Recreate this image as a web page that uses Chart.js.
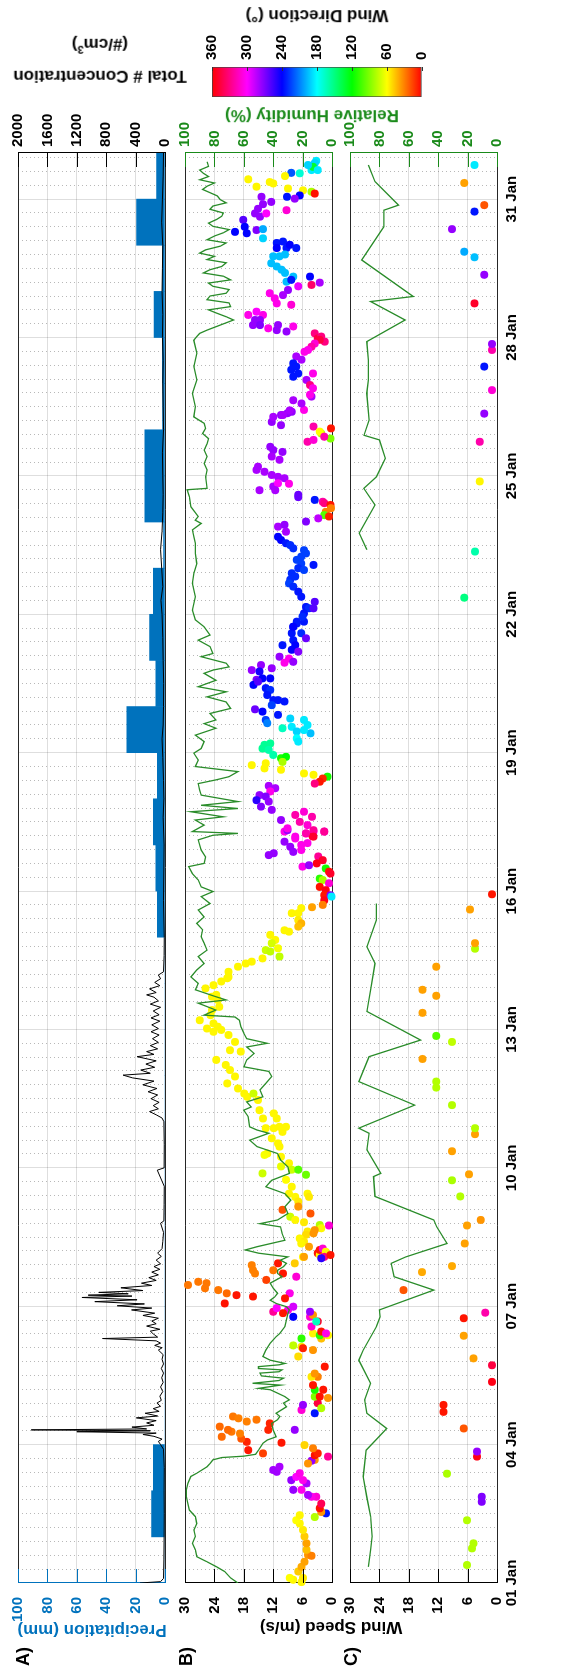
<!DOCTYPE html>
<html><head><meta charset="utf-8">
<script src="https://cdn.jsdelivr.net/npm/chart.js@4.4.0/dist/chart.umd.min.js"></script>
<style>
html,body{margin:0;padding:0;background:#fff;width:564px;height:1675px;overflow:hidden;}
#fig{position:absolute;left:0;top:0;width:1675px;height:564px;transform-origin:0 0;transform:translate(0px,1675px) rotate(-90deg);font-family:"Liberation Sans",Arial,Helvetica,sans-serif;font-weight:bold;}
canvas{position:absolute;}
.lbl{position:absolute;white-space:nowrap;font-weight:bold;line-height:1.2;}
.rot{transform:translate(-50%,-50%) rotate(-90deg);text-align:center;}
</style></head>
<body>
<div id="fig">
  <canvas id="cA" width="1675" height="175" style="left:0;top:0"></canvas>
  <canvas id="cB" width="1675" height="167" style="left:0;top:175px"></canvas>
  <canvas id="cC" width="1675" height="224" style="left:0;top:340px"></canvas>
  <canvas id="cCB" width="110" height="240" style="left:1560px;top:200px"></canvas>
  <div class="lbl" style="left:9px;top:13px;font-size:18px">A)</div>
  <div class="lbl" style="left:9px;top:176px;font-size:18px">B)</div>
  <div class="lbl" style="left:9px;top:341px;font-size:18px">C)</div>
  <div class="lbl rot" style="left:45px;top:92px;font-size:17px;color:#0072BD">Precipitation (mm)</div>
  <div class="lbl rot" style="left:48px;top:331px;font-size:17px;color:#000">Wind Speed (m/s)</div>
  <div class="lbl rot" style="left:1615px;top:100px;font-size:17px;color:#000;line-height:26px">Total # Concentration<br>(#/cm<sup style="font-size:11px">3</sup>)</div>
  <div class="lbl rot" style="left:1560px;top:312px;font-size:17px;color:#1a8a1a">Relative Humidity (%)</div>
  <div class="lbl rot" style="left:1660px;top:317px;font-size:17px;color:#000">Wind Direction (°)</div>
</div>
<script>
// ---------- DATA ----------
const dayTicks = [0,3,6,9,12,15,18,21,24,27,30];
const dayTickLabels = ['01 Jan','04 Jan','07 Jan','10 Jan','13 Jan','16 Jan','19 Jan','22 Jan','25 Jan','28 Jan','31 Jan'];
const precipTicks = [0,20,40,60,80,100];
const concTicks = [0,400,800,1200,1600,2000];
const speedTicks = [0,6,12,18,24,30];
const rhTicks = [0,20,40,60,80,100];
const dirTicks = [0,60,120,180,240,300,360];

// daily precipitation (mm), 01 Jan .. 31 Jan
const precipMM = [0,9.1,8.0,0,0,0,0,0,0,0,0,0,0,0,5.3,6.3,8.0,5.3,25.9,6.3,10.5,8.0,1.0,13.7,13.7,1.6,1.8,7.5,1.8,19.3,5.7];

// total number concentration (#/cm3): time (days since 01 Jan) and value
const concT = [0,0.03,0.1,0.5,1.0,1.5,2.0,2.5,2.9,3.0,3.07,3.12,3.18,3.22,3.25,3.28,3.3,3.32,3.34,3.38,3.42,3.47,3.52,3.58,3.62,3.68,3.72,3.78,3.83,3.9,3.96,4.05,4.15,4.25,4.35,4.45,4.55,4.65,4.75,4.85,4.95,5.05,5.1,5.15,5.2,5.25,5.3,5.33,5.4,5.46,5.5,5.57,5.62,5.68,5.74,5.8,5.85,5.92,5.96,6.01,6.05,6.1,6.14,6.19,6.22,6.24,6.27,6.3,6.34,6.4,6.45,6.5,6.56,6.62,6.68,6.74,6.8,6.86,6.92,7.0,7.08,7.15,7.25,7.4,7.6,7.8,7.85,8.2,8.6,8.95,9.0,9.5,10.0,10.08,10.15,10.22,10.28,10.35,10.42,10.5,10.58,10.65,10.72,10.8,10.88,10.95,11.01,11.05,11.12,11.18,11.25,11.32,11.41,11.46,11.52,11.58,11.65,11.72,11.8,11.88,11.95,12.02,12.1,12.18,12.25,12.32,12.4,12.48,12.55,12.62,12.7,12.75,12.8,12.88,12.95,13.02,13.1,13.18,13.25,13.6,14.0,14.8,15.5,16.0,16.6,17.0,17.4,17.9,18.3,18.6,19.0,19.5,20.0,20.5,21.0,21.3,21.6,22.0,22.4,22.8,23.2,23.6,24.0,24.5,25.0,25.5,26.0,26.5,27.0,27.5,28.0,28.5,29.0,29.5,30.0,30.5,31.0];
const concV = [340,60,20,15,12,10,12,10,20,60,90,40,150,300,120,1200,200,1820,250,450,150,250,120,390,100,270,80,160,60,110,50,70,30,60,25,45,20,50,20,40,25,90,40,140,60,120,850,100,160,200,70,250,120,180,90,300,140,455,180,650,280,955,380,1130,450,1045,500,900,300,600,180,320,120,220,90,180,70,150,60,120,50,100,40,30,20,60,15,12,10,105,12,10,15,40,120,210,90,160,80,190,100,230,110,300,150,440,570,200,330,140,260,120,380,150,250,100,200,90,170,80,190,90,180,70,190,80,160,60,200,90,150,250,120,210,70,140,60,90,20,12,10,20,15,12,25,15,20,30,40,25,20,18,25,30,40,55,30,45,60,40,30,25,30,35,20,25,30,25,35,30,40,35,30,45,35,25,20];

// panel B relative humidity line
const rhBT = [0,0.11,0.25,0.35,0.46,0.57,0.72,0.86,1.01,1.15,1.29,1.44,1.58,1.72,1.87,2.02,2.16,2.31,2.38,2.52,2.59,2.67,2.72,2.75,2.79,2.88,3.03,3.1,3.17,3.32,3.46,3.54,3.61,3.68,3.82,3.9,3.97,4.04,4.19,4.22,4.29,4.33,4.39,4.44,4.49,4.55,4.58,4.62,4.65,4.69,4.73,4.76,4.83,4.91,5.05,5.2,5.34,5.41,5.56,5.7,5.84,5.92,5.99,6.06,6.13,6.2,6.28,6.39,6.5,6.57,6.64,6.71,6.78,6.86,6.93,7.0,7.07,7.15,7.22,7.29,7.43,7.58,7.72,7.79,7.87,8.01,8.16,8.3,8.44,8.59,8.73,8.88,9.02,9.17,9.31,9.46,9.6,9.75,9.82,9.89,10.11,10.25,10.32,10.43,10.54,10.69,10.83,10.98,11.09,11.19,11.34,11.48,11.62,11.7,11.8,11.92,12.06,12.2,12.27,12.31,12.42,12.57,12.64,12.71,12.86,13.0,13.14,13.29,13.43,13.58,13.72,13.87,14.01,14.16,14.3,14.44,14.59,14.73,14.88,14.99,15.09,15.24,15.38,15.53,15.6,15.74,15.89,16.11,16.21,16.25,16.29,16.43,16.54,16.61,16.72,16.79,16.86,16.94,17.08,17.19,17.33,17.41,17.48,17.59,17.7,17.84,17.99,18.09,18.24,18.38,18.53,18.63,18.71,18.85,18.96,19.1,19.21,19.32,19.43,19.57,19.72,19.79,19.86,19.94,20.08,20.15,20.3,20.44,20.55,20.73,20.88,21.09,21.38,21.67,21.89,22.1,22.32,22.54,22.68,22.83,22.97,23.04,23.12,23.33,23.55,23.7,23.73,23.98,24.13,24.27,24.42,24.56,24.7,24.81,24.92,25.03,25.14,25.28,25.5,25.79,26.08,26.37,26.66,26.94,27.02,27.09,27.16,27.27,27.38,27.45,27.53,27.6,27.67,27.75,27.82,27.9,27.96,28.04,28.11,28.18,28.25,28.33,28.4,28.47,28.54,28.62,28.69,28.76,28.83,28.9,28.98,29.05,29.12,29.2,29.27,29.34,29.41,29.48,29.56,29.63,29.7,29.78,29.85,29.92,29.99,30.07,30.14,30.21,30.28,30.35,30.42,30.49,30.56,30.63,30.71,30.81];
const rhBV = [64,69,73,78.5,85,92,93,95,93,94,92,93,97,98,99,99,98,96,92,85,83,81,75,60,52,50,47,44,38,40,41,37,35.5,38,31,33,29,32,42,50,35,54,36,33,48,49,36,34,50,50,36,32,42,47,45,42,38,35.5,32,31,30,29,31,38,42,39,37,40,42,38,34,37,37,33,31,35,30,50,59,51,32,34,35,49,37,30,32,28,32,45,41,29,30,35,37,51,56,43,51,56,57,60,55,58,47,49,45,41,43,60,58,53,58,44,58,60,62,63,66,87,79,91,72,79,93,91,96,92,87,91,85,87,89,88,92,87,91,83,89,81,89,91,95,97.5,87,86,89,91,81,64,95,87,93,74,96,64,89,64,89,90,91,79,70,64,93,91,94,89,87,93,79,87,79,83,69,72,85,72,91,79,87,81,70,72,89,81,83,91,83,87,93,95,93,95,94,92,93,93,94,95,89,93,91,96,97,98.5,85,86,85,87,85,87,85,84,88,86,87,94,93,95,92,94,92,94,92,90,85,76,67,72,78.5,84,69,70,85,83,72,70,81,84,69,74,87.5,83,75,72,85,80,90,86,76,72,85,80,74,70,81,84,78.5,75,74,83,81,72,76,78,83,88,85,80,90,84,87.5,90,84,85];

// panel B wind speed (m/s), time, and wind direction (deg)
const wsBT = [0.07,0.02,0.11,0.11,0.25,0.35,0.46,0.61,0.59,0.72,0.86,1.01,1.15,1.29,1.36,1.47,1.43,1.51,1.54,1.62,1.72,1.87,1.87,1.91,2.02,2.16,2.23,2.02,2.23,2.30,2.38,2.41,2.45,2.52,2.74,2.67,2.65,2.77,2.81,2.92,2.59,2.99,2.81,2.88,3.06,3.13,3.24,3.28,3.32,3.39,3.17,3.50,3.54,3.61,3.57,3.32,3.46,3.04,3.32,3.75,3.86,3.68,3.90,3.79,4.04,4.19,4.04,4.29,4.47,4.47,4.54,4.69,4.01,4.19,5.05,5.12,4.91,5.15,5.09,5.41,5.30,5.37,5.37,5.30,5.56,5.45,5.41,5.67,5.77,5.81,5.67,5.88,5.77,5.92,5.85,5.99,5.88,5.96,6.28,6.64,6.21,6.24,6.06,6.28,6.35,6.39,6.50,6.53,6.46,6.78,6.71,6.89,6.78,6.93,6.57,6.71,6.17,6.93,7.07,7.15,7.11,
11.73,11.55,11.52,11.34,11.23,11.12,10.98,10.83,10.72,10.61,10.54,10.61,10.47,10.25,10.07,10.18,10.07,9.86,9.86,9.89,9.78,9.89,9.64,9.53,9.46,9.31,9.28,9.24,9.03,8.88,9.1,8.96,8.96,8.85,8.74,8.59,8.44,8.37,8.27,8.44,8.37,8.16,8.09,7.94,7.87,8.01,7.82,7.76,7.69,7.75,7.62,7.55,7.65,7.58,7.47,7.4,7.36,7.29,7.07,7.22,7.25,7.18,7.07,7.11,7.04,
16.29,16.32,16.25,16.29,16.29,16.18,16.04,16.19,16.07,15.96,15.85,16.0,15.89,15.78,15.82,15.75,15.67,15.6,15.53,15.56,15.49,15.42,15.38,15.27,15.24,15.17,15.09,15.02,14.91,14.8,14.91,14.88,14.7,14.65,14.63,14.52,14.52,14.37,14.3,14.23,14.15,14.12,14.05,13.94,13.87,13.76,13.72,13.69,13.58,13.54,13.47,13.43,13.36,13.25,13.14,13.11,13.04,12.96,12.89,12.75,12.71,12.64,12.49,12.42,12.31,12.2,12.13,12.06,12.02,11.95,11.99,11.88,
20.84,20.73,20.84,20.59,20.59,20.44,20.48,20.33,20.33,20.23,20.19,20.08,20.04,19.95,19.97,19.79,19.9,19.83,19.76,19.58,19.61,19.61,19.47,19.54,19.4,19.36,19.25,19.14,19.14,19.11,19.03,18.94,18.89,18.82,18.71,18.64,18.74,18.56,18.53,18.71,18.6,18.42,18.49,18.46,18.31,18.24,18.17,18.2,18.09,18.06,17.95,17.88,17.91,17.8,17.73,17.77,17.66,17.63,17.55,17.52,17.48,17.44,17.37,17.33,17.28,17.23,17.16,17.08,17.05,16.97,16.94,16.83,16.76,16.54,16.65,16.72,16.61,16.5,16.43,16.36,16.25,16.32,16.29,16.18,16.14,
25.39,25.43,25.32,25.36,25.17,25.1,25.07,24.92,24.96,25.03,24.81,24.85,24.74,24.78,24.63,24.56,24.52,24.42,24.35,24.2,24.13,24.09,24.02,23.98,23.95,23.77,23.84,23.83,23.69,23.69,23.59,23.54,23.48,23.44,23.41,23.37,23.3,23.22,23.15,23.12,23.08,23.01,22.9,22.94,22.79,22.68,22.61,22.54,22.5,22.43,22.25,22.39,22.32,22.18,22.1,22.0,21.96,22.07,21.89,21.82,21.75,21.67,21.6,21.49,21.38,21.16,21.13,21.02,21.27,21.13,20.95,20.8,20.73,
30.83,30.78,30.63,30.7,30.74,30.63,30.56,30.57,30.5,30.16,30.12,30.19,30.23,30.34,30.37,30.43,30.27,30.05,30.05,30.08,30.01,29.76,29.94,29.89,29.79,29.69,29.62,29.69,29.55,29.4,29.26,29.29,29.33,29.35,29.15,29.05,29.08,28.94,28.94,29.01,28.94,28.76,28.76,28.8,28.61,28.54,28.47,28.4,28.32,28.21,28.25,28.32,28.11,28.14,28.19,28.03,27.92,27.96,27.85,27.74,27.71,27.49,27.49,27.56,27.38,27.38,27.27,27.27,27.2,27.16,27.27,27.24,27.13,27.09,26.98,27.02,26.91,26.95,26.87,26.8,26.73,26.69,26.59,26.52,26.44,26.3,26.37,26.15,26.22,26.08,26.22,25.97,25.9,25.72,25.76,25.57,25.64,25.42,25.32,25.28];
const wsBV = [7.9,6.2,5.9,8.6,6.9,6.2,5.6,4.9,4.2,5.2,5.2,5.6,5.9,6.6,7.3,6.6,3.5,1.2,2.2,2.5,2.2,3.2,4.2,4.9,6.2,5.2,5.9,7.9,8.3,7.3,6.6,11.3,12.0,10.7,0.8,3.5,4.2,3.5,2.9,3.9,4.9,5.6,14.1,17.1,17.4,18.5,18.8,20.5,21.2,22.9,22.5,17.4,15.4,20.2,19.1,13.0,12.7,10.3,7.6,6.2,5.9,3.5,2.9,2.2,3.5,3.5,2.5,3.9,2.9,4.2,3.5,1.5,0.8,1.8,3.9,6.2,6.9,7.9,5.9,3.9,2.2,2.5,0.8,6.2,4.2,2.2,1.2,2.9,4.5,3.9,3.2,4.5,7.9,9.0,10.0,7.9,12.0,11.3,8.6,7.3,16.1,19.5,21.9,21.5,23.2,25.9,25.6,27.3,29.4,16.1,15.7,16.4,12.0,11.0,13.4,10.0,9.6,7.6,5.9,2.9,2.5,
19.8,20.8,18.6,23.6,21.7,20.8,19.8,21.4,19.2,17.9,17.3,16.0,15.1,14.8,14.1,11.9,11.3,13.5,11.9,10.7,10.1,9.4,12.3,11.0,10.7,13.2,13.8,10.4,10.4,14.2,8.8,8.2,6.9,5.3,9.4,8.2,8.8,7.5,6.9,5.0,4.7,6.9,10.1,8.5,7.5,4.4,5.7,2.5,2.2,0.6,5.0,5.3,3.5,3.8,6.6,5.7,6.3,4.7,5.7,2.5,1.9,1.3,1.6,0.3,2.2,
9.7,9.1,5.3,3.8,1.6,7.5,5.0,4.0,9.7,8.5,7.9,6.3,6.3,12.9,11.9,2.8,1.9,3.1,6.0,4.7,1.3,0.6,0.3,2.5,1.9,0.6,2.5,1.3,1.6,1.6,0.3,0.1,1.9,4.1,6.3,8.2,6.9,6.9,6.3,6.9,9.7,8.8,12.6,11.6,12.3,11.0,13.5,12.6,10.7,14.2,16.4,17.6,19.2,21.1,21.1,21.4,22.6,24.2,25.8,23.6,24.5,23.3,23.0,24.5,24.8,27.0,24.2,23.3,25.5,24.2,22.6,21.1,
7.2,7.9,5.7,8.2,6.3,7.9,5.3,10.1,7.5,8.2,6.9,10.7,8.8,9.7,7.9,16.4,14.5,12.3,14.8,15.4,14.2,12.6,16.0,15.1,13.5,12.6,13.2,12.0,11.0,9.7,12.3,15.7,14.2,11.0,13.5,13.2,8.5,8.2,10.1,5.7,5.0,4.4,5.7,7.2,7.2,6.9,13.8,12.6,14.2,12.9,12.0,10.4,9.4,10.1,16.4,13.5,13.8,10.4,5.7,3.8,0.9,1.9,2.5,3.5,12.9,11.6,12.6,14.8,13.5,15.4,12.9,14.5,12.3,10.4,7.5,5.7,4.1,6.6,5.0,9.1,5.3,3.8,1.6,3.8,7.5,
8.2,5.7,10.4,9.1,12.3,10.4,3.8,2.2,2.5,0.2,0.3,1.6,5.0,3.8,12.6,12.0,10.1,12.3,10.7,15.1,15.4,13.8,12.3,11.0,9.7,12.0,11.0,8.8,14.8,11.6,6.9,6.9,3.5,1.9,1.6,0.3,0.2,1.3,1.6,0.6,2.8,5.3,11.0,9.7,9.4,11.0,10.4,9.4,8.5,7.9,6.3,5.7,5.3,7.2,6.3,6.9,5.7,3.8,8.2,7.5,8.5,8.8,7.9,6.9,6.3,5.3,4.7,5.7,3.5,3.8,6.0,7.2,7.9,
3.2,3.5,4.2,3.9,4.9,2.9,6.6,8.3,9.6,4.2,3.5,5.9,9.0,12.0,12.7,17.1,15.4,14.4,9.2,6.6,7.6,9.3,12.4,14.1,15.1,15.7,14.7,13.4,18.1,17.8,17.4,19.8,15.4,14.1,14.1,11.3,10.0,11.3,9.3,8.6,7.3,12.0,10.7,9.6,12.4,11.3,10.3,9.6,7.9,9.3,8.3,4.5,6.9,4.2,2.5,9.0,10.0,12.7,11.7,11.3,8.3,14.1,17.1,15.4,15.7,14.7,16.1,14.7,13.0,11.3,11.0,7.9,9.3,3.5,2.9,2.2,1.5,2.5,3.5,4.2,4.9,5.6,7.3,6.2,7.9,8.3,7.3,7.9,6.9,5.2,3.9,4.5,3.9,4.2,4.5,6.2,7.9,8.6,10.0,12.0];
const wsBD = [58,58,55,60,48,40,38,35,30,45,38,48,55,58,60,58,78,235,35,4,340,310,305,280,305,280,305,275,275,300,305,278,278,280,325,35,275,4,8,30,35,50,15,5,8,20,30,28,25,25,25,30,28,28,30,8,8,5,275,310,275,235,345,78,90,115,5,5,30,55,35,5,35,5,35,55,52,75,8,58,45,110,58,110,310,5,305,350,310,35,165,275,240,305,5,290,325,300,305,310,5,5,4,25,28,28,28,28,28,30,30,30,28,5,15,5,5,48,58,5,58,
58,58,58,58,58,58,58,58,58,58,58,72,58,58,58,58,58,58,58,58,58,58,58,58,58,58,62,58,65,72,58,72,100,95,60,58,58,58,55,58,55,35,20,72,58,20,55,78,58,310,55,52,35,35,58,55,58,38,38,5,310,58,330,5,250,
305,275,305,305,305,305,305,350,275,275,275,305,305,275,275,325,350,355,305,275,115,5,350,110,80,310,4,355,5,355,270,185,30,38,58,58,58,55,42,45,58,58,58,58,70,62,72,75,75,58,58,58,58,58,58,58,58,58,58,58,58,58,58,58,58,58,58,58,58,58,58,58,
235,235,235,235,230,235,265,235,240,240,270,275,305,305,275,275,275,275,245,270,240,240,240,260,235,230,235,235,235,235,225,265,240,235,225,210,190,185,165,185,185,195,185,190,180,185,155,155,155,160,160,115,120,80,58,58,58,58,58,58,115,10,5,330,280,280,305,275,270,250,275,270,275,275,320,310,320,320,310,305,320,325,325,350,305,
275,305,275,275,275,275,320,78,60,5,90,320,320,310,275,275,275,280,280,280,280,280,280,280,280,280,300,305,280,280,265,265,235,320,330,5,30,30,100,8,285,270,280,275,280,240,240,235,230,230,225,225,225,225,225,230,225,235,230,230,230,225,230,235,235,235,230,235,260,260,230,235,240,
185,190,185,130,190,185,170,220,58,80,4,58,58,58,58,58,58,275,235,240,275,310,275,275,275,275,275,300,260,240,240,240,270,200,190,235,235,240,235,240,235,195,195,195,195,195,195,195,195,195,235,240,295,335,280,275,280,305,305,305,310,305,305,300,275,275,275,270,305,275,275,305,275,330,345,330,330,345,310,320,305,305,280,280,235,235,235,235,235,280,305,330,305,280,305,280,280,280,280,280];

// panel C relative humidity line (null = no data)
const rhCT = [0.35,0.72,1.01,1.44,1.87,2.31,2.88,3.35,3.68,3.97,4.33,4.83,5.05,5.56,5.77,5.92,6.35,6.64,6.93,7.07,7.36,7.72,7.87,8.38,8.81,8.88,9.39,9.75,9.86,10.36,10.87,11.41,11.77,12.39,12.86,13.43,13.79,14.37,14.73,18,22.4,22.76,23.37,23.73,23.98,24.38,24.78,24.88,25.21,25.79,26.08,26.51,26.91,27.38,27.78,27.89,28.68,29.4,29.76,29.87,30.38,30.74];
const rhCV = [87.5,86,85,86,88.6,91,89,75,88.6,90,86,94,91,82,79.5,80,43,70,72,62,34,41,43,83,84,79,88.5,87,94,56,94,87,52,88.5,86,83,88.5,82,82,null,88.5,93.7,83,90.6,82,76,80,90.5,87,88.6,87.5,87.5,88.6,62.5,86,57,92,77,77,67,83,87.5];

// panel C wind speed, time, direction
const wsCT = [0.39,0.75,0.86,1.36,1.76,1.87,2.37,2.74,2.85,3.35,3.71,3.86,4.36,4.72,4.87,5.36,5.74,5.86,6.35,6.74,6.87,7.36,7.75,7.87,8.38,8.73,8.86,9.36,9.73,9.86,10.36,10.74,10.87,11.36,11.73,11.86,12.36,12.73,12.86,13.36,13.75,13.87,14.6,14.93,21.36,22.36,23.88,24.74,25.35,25.86,26.37,26.73,26.86,27.74,28.36,28.74,28.86,29.35,29.73,29.87,30.35,30.74];
const wsCV = [6.1,5.1,4.8,6.1,3.1,3.1,10.2,4.1,4.1,6.8,10.9,10.9,1.0,1.0,4.8,6.8,6.8,2.4,19.1,15.3,9.2,6.6,6.1,3.3,7.5,9.2,5.7,9.2,4.5,4.5,9.2,12.4,12.4,15.2,9.2,12.4,15.2,12.4,15.2,12.4,4.5,4.5,5.5,1.0,6.7,4.5,3.5,3.5,2.6,1.0,2.6,1.0,1.0,4.6,2.6,4.6,6.7,9.2,4.6,2.6,6.7,4.6];
const wsCD = [78,78,78,78,270,270,80,355,275,20,5,5,355,345,38,38,5,320,20,40,40,38,38,35,78,80,38,38,38,78,78,78,78,38,75,100,38,38,38,38,78,38,38,5,150,160,58,320,275,310,235,320,275,350,275,195,200,275,235,20,38,185];

// ---------- STYLE ----------
const FONT = '"Liberation Sans", Arial, Helvetica, sans-serif';
const BLUE = '#0072BD', GREEN = '#1a8a1a', LINEGREEN = '#2a8c2a', AX = '#262626';
Chart.defaults.font.family = FONT;
Chart.defaults.font.weight = 'bold';
Chart.defaults.font.size = 15;
Chart.defaults.color = '#000';
const dirColor = d => `hsl(${d},100%,50%)`;
const pts = (t, v) => t.map((x, i) => ({x, y: v[i]}));

const insideTicks = {
  id: 'insideTicks',
  afterDraw(chart, args, opts) {
    const c = chart.ctx, a = chart.chartArea;
    (opts.scales || []).forEach(spec => {
      const s = chart.scales[spec.id];
      if (!s) return;
      c.save(); c.strokeStyle = spec.color; c.lineWidth = 1;
      s.ticks.forEach(t => {
        const y = Math.round(s.getPixelForValue(t.value)) + 0.5;
        c.beginPath();
        if (s.position === 'left') { c.moveTo(a.left, y); c.lineTo(a.left + spec.len, y); }
        else { c.moveTo(a.right, y); c.lineTo(a.right - spec.len, y); }
        c.stroke();
      });
      c.restore();
    });
  }
};

function xAxes(showLabels, h) {
  return {
    x: {type:'linear', min:0, max:31, position:'bottom', offset:false,
      afterBuildTicks: s => { s.ticks = dayTicks.map(v => ({value:v})); },
      ticks: {display:showLabels, autoSkip:false, maxRotation:0, minRotation:0, padding:6, color:'#000',
        font:{size:15, weight:'bold'}, callback: v => dayTickLabels[dayTicks.indexOf(v)]},
      grid: {color:'rgba(0,0,0,0.13)', lineWidth:1, drawTicks:false, offset:false},
      border: {display:true, color:AX, width:1},
      afterFit: s => { s.height = h; }
    },
    xm: {type:'linear', min:0, max:31, position:'bottom', offset:false,
      afterBuildTicks: s => { const t = []; for (let k = 1; k <= 103; k++) { if (k % 10) t.push({value: k * 0.3}); } s.ticks = t; },
      ticks: {display:false},
      grid: {color:'rgba(0,0,0,0.28)', lineWidth:1, drawTicks:false, offset:false},
      border: {display:false, dash:[1,3]},
      afterFit: s => { s.height = 0; }
    },
    xt: {type:'linear', min:0, max:31, position:'top', offset:false,
      ticks: {display:false}, grid: {display:false, drawTicks:false},
      border: {display:true, color:AX, width:1},
      afterFit: s => { s.height = 0; }
    }
  };
}
function yAxis(pos, min, max, tickArr, color, width, withGrid, tl) {
  return {type:'linear', position:pos, min, max,
    afterBuildTicks: s => { s.ticks = tickArr.map(v => ({value:v})); },
    ticks: {color, padding:0, font:{size:15, weight:'bold'}, callback: v => String(v)},
    grid: withGrid ? {color:'rgba(0,0,0,0.13)', drawTicks:true, tickLength:tl, tickColor:'rgba(0,0,0,0)'}
                   : {drawOnChartArea:false, drawTicks:true, tickLength:tl, tickColor:'rgba(0,0,0,0)'},
    border: {display:true, color, width:1},
    afterFit: s => { s.width = width; }
  };
}
const base = (padTop, extraScales, tickSpecs) => ({
  responsive:false, animation:false, devicePixelRatio:1, events:[],
  layout:{padding:{top:padTop, left:0, right:0, bottom:0}},
  plugins:{legend:{display:false}, tooltip:{enabled:false}, insideTicks:{scales:tickSpecs}},
  scales: extraScales
});

// ---------- Panel A ----------
new Chart(document.getElementById('cA'), {
  type:'scatter',
  data:{datasets:[
    {type:'line', data:pts(concT, concV), xAxisID:'x', yAxisID:'yR', borderColor:'#000', borderWidth:1, pointRadius:0, tension:0, order:0},
    {type:'bar', data:precipMM.map((v, i) => ({x:i + 0.5, y:v})), xAxisID:'x', yAxisID:'yL', backgroundColor:BLUE, borderWidth:0, barPercentage:1, categoryPercentage:1, order:1}
  ]},
  options: base(18, Object.assign(xAxes(false, 10), {
    yL: yAxis('left', 0, 100, precipTicks, BLUE, 92, true, 14),
    yR: yAxis('right', 0, 2000, concTicks, '#000', 153, false, 6)
  }), [{id:'yL', color:BLUE, len:14}, {id:'yR', color:'#000', len:14}]),
  plugins:[insideTicks]
});

// ---------- Panel B ----------
new Chart(document.getElementById('cB'), {
  type:'scatter',
  data:{datasets:[
    {type:'line', data:pts(rhBT, rhBV), xAxisID:'x', yAxisID:'yR', borderColor:LINEGREEN, borderWidth:1.3, pointRadius:0, tension:0, order:0},
    {type:'scatter', data:pts(wsBT, wsBV), xAxisID:'x', yAxisID:'yL', pointRadius:4, pointBorderWidth:0, backgroundColor:wsBD.map(dirColor), borderColor:wsBD.map(dirColor), clip:false, order:1}
  ]},
  options: base(10, Object.assign(xAxes(false, 10), {
    yL: yAxis('left', 0, 30, speedTicks, '#000', 92, true, 14),
    yR: yAxis('right', 0, 100, rhTicks, GREEN, 153, false, 6)
  }), [{id:'yL', color:'#000', len:14}, {id:'yR', color:GREEN, len:14}]),
  plugins:[insideTicks]
});

// ---------- Panel C ----------
new Chart(document.getElementById('cC'), {
  type:'scatter',
  data:{datasets:[
    {type:'line', data:pts(rhCT, rhCV), xAxisID:'x', yAxisID:'yR', borderColor:LINEGREEN, borderWidth:1.3, pointRadius:0, tension:0, spanGaps:false, order:0},
    {type:'scatter', data:pts(wsCT, wsCV), xAxisID:'x', yAxisID:'yL', pointRadius:4, pointBorderWidth:0, backgroundColor:wsCD.map(dirColor), borderColor:wsCD.map(dirColor), clip:false, order:1}
  ]},
  options: base(10, Object.assign(xAxes(true, 67), {
    yL: yAxis('left', 0, 30, speedTicks, '#000', 92, true, 14),
    yR: yAxis('right', 0, 100, rhTicks, GREEN, 153, false, 6)
  }), [{id:'yL', color:'#000', len:14}, {id:'yR', color:GREEN, len:14}]),
  plugins:[insideTicks]
});

// ---------- Colorbar ----------
new Chart(document.getElementById('cCB'), {
  type:'bar',
  data:{labels:['dir'], datasets:[{
    data:[[dirTicks[0], dirTicks[dirTicks.length - 1]]],
    backgroundColor: ctx => {
      const a = ctx.chart.chartArea;
      if (!a) return '#f00';
      const g = ctx.chart.ctx.createLinearGradient(0, a.bottom, 0, a.top);
      dirTicks.forEach(v => g.addColorStop(v / 360, dirColor(v)));
      return g;
    },
    borderColor:'#444', borderWidth:1, borderSkipped:false, barPercentage:1, categoryPercentage:1
  }]},
  options:{
    responsive:false, animation:false, devicePixelRatio:1, events:[],
    layout:{padding:{left:18, top:12, bottom:18, right:0}},
    plugins:{legend:{display:false}, tooltip:{enabled:false}, insideTicks:{scales:[{id:'y', color:'#333', len:4}]}},
    scales:{
      x:{display:false},
      y:{type:'linear', position:'right', min:0, max:360,
        afterBuildTicks: s => { s.ticks = dirTicks.map(v => ({value:v})); },
        ticks:{padding:0, color:'#000', font:{size:15, weight:'bold'}, callback: v => String(v)},
        grid:{drawOnChartArea:false, drawTicks:true, tickLength:7, tickColor:'rgba(0,0,0,0)'},
        border:{display:false},
        afterFit: s => { s.width = 62; }
      }
    }
  },
  plugins:[insideTicks]
});
</script>
</body></html>
